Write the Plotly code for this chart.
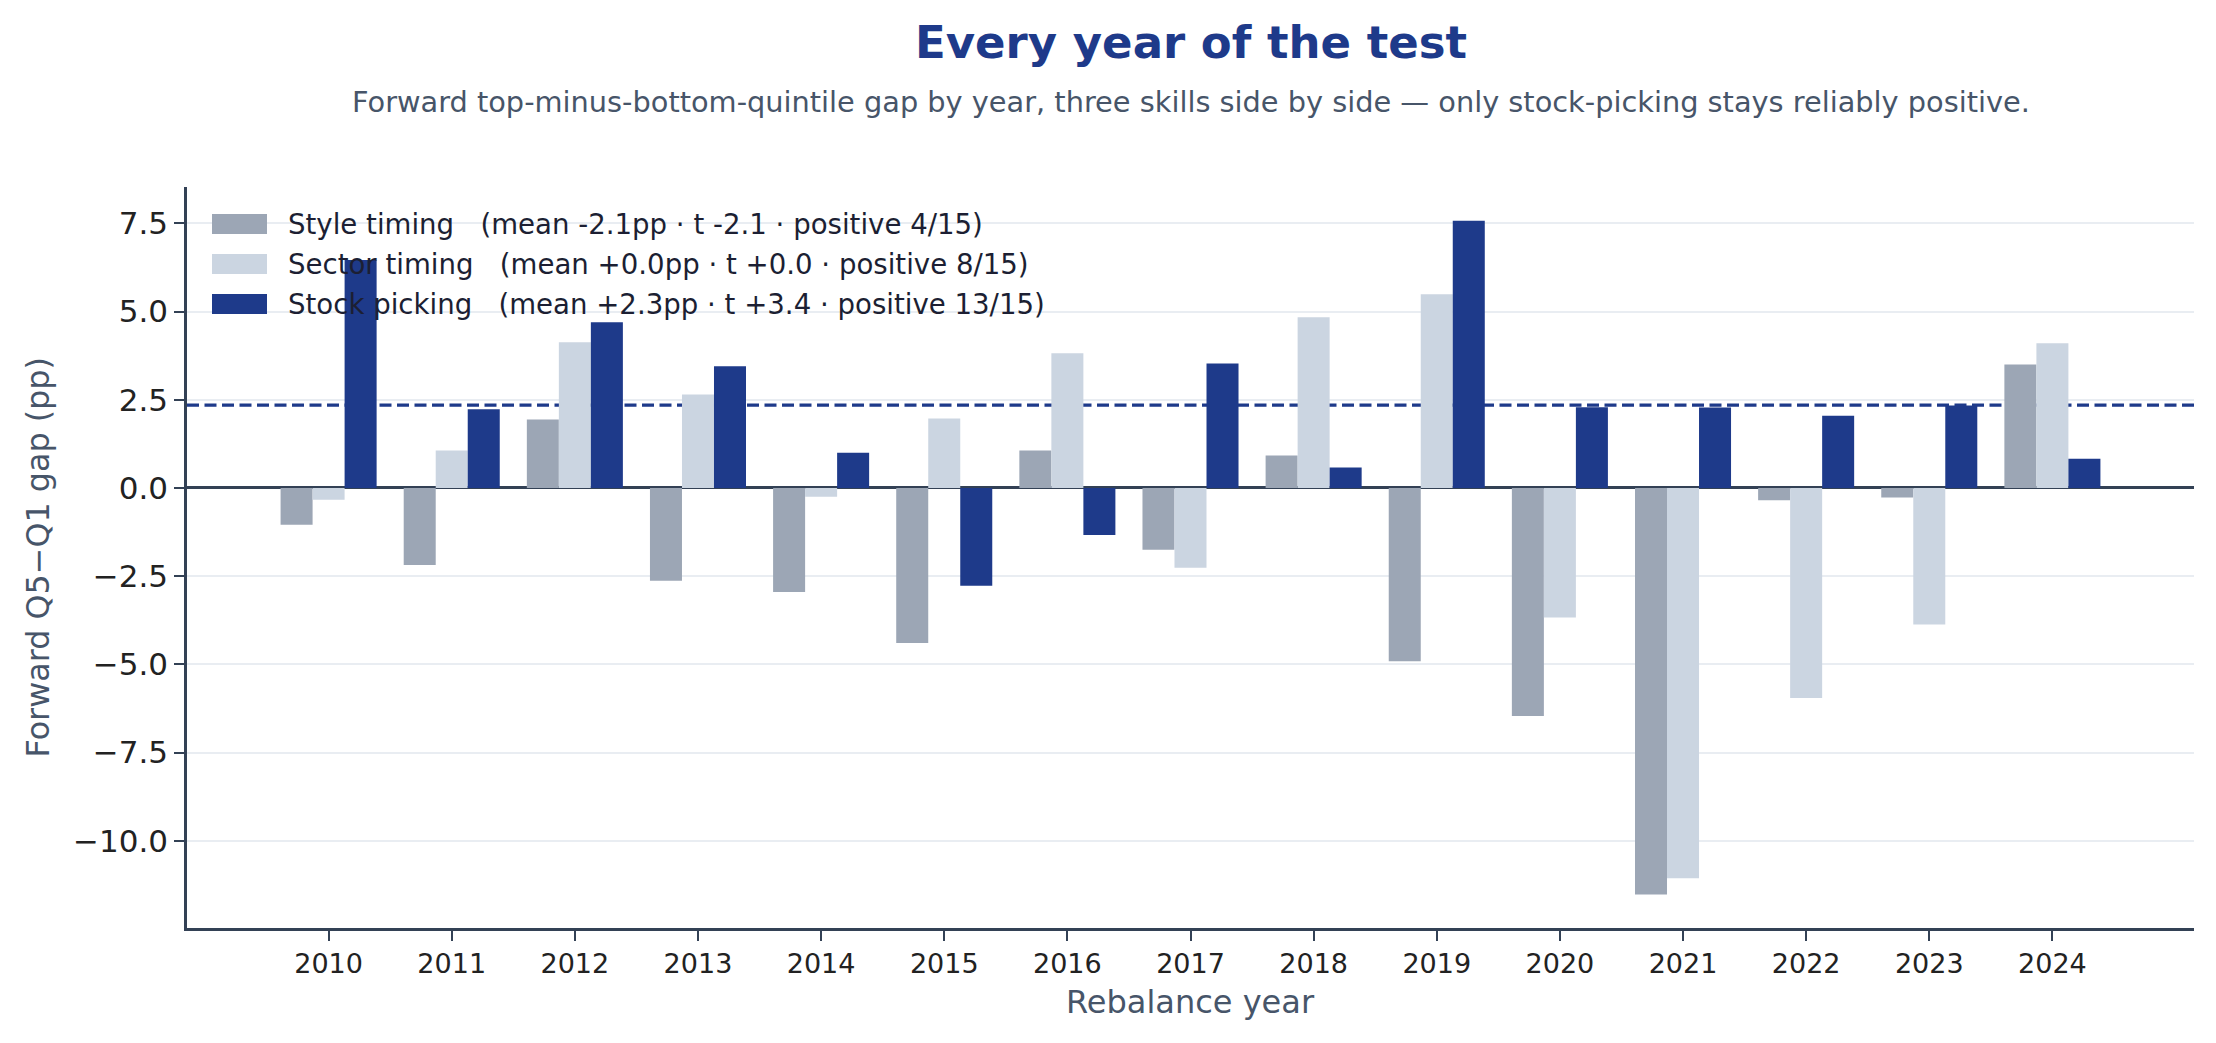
import plotly.graph_objects as go

# ---------------- data ----------------
years = [2010, 2011, 2012, 2013, 2014, 2015, 2016, 2017, 2018, 2019, 2020, 2021, 2022, 2023, 2024]
year_labels = [str(y) for y in years]

style_timing = [-1.04, -2.18, 1.94, -2.63, -2.95, -4.39, 1.06, -1.75, 0.92, -4.91, -6.46, -11.52, -0.35, -0.27, 3.50]
sector_timing = [-0.33, 1.06, 4.13, 2.65, -0.25, 1.97, 3.82, -2.26, 4.84, 5.49, -3.67, -11.06, -5.95, -3.87, 4.10]
stock_picking = [6.46, 2.23, 4.70, 3.45, 1.00, -2.77, -1.33, 3.53, 0.58, 7.57, 2.29, 2.28, 2.05, 2.34, 0.83]

series_names = ["Style timing", "Sector timing", "Stock picking"]
series_stats = [
    "(mean -2.1pp · t -2.1 · positive 4/15)",
    "(mean +0.0pp · t +0.0 · positive 8/15)",
    "(mean +2.3pp · t +3.4 · positive 13/15)",
]
series_colors = ["#9ca6b5", "#cbd5e1", "#1e3a8a"]

ytick_vals = [-10.0, -7.5, -5.0, -2.5, 0.0, 2.5, 5.0, 7.5]
ytick_text = ["\u221210.0", "\u22127.5", "\u22125.0", "\u22122.5", "0.0", "2.5", "5.0", "7.5"]

title_text = "Every year of the test"
subtitle_text = ("Forward top-minus-bottom-quintile gap by year, three skills side by side "
                 "\u2014 only stock-picking stays reliably positive.")
x_title = "Rebalance year"
y_title = "Forward Q5\u2212Q1 gap (pp)"

# ---------------- figure ----------------
FONT = "DejaVu Sans"
W, H = 2216, 1043
ML, MR, MT, MB = 187, 22, 187, 115
PW, PH = W - ML - MR, H - MT - MB


def px_x(px):
    return (px - ML) / PW


def px_y(py):
    return (H - MB - py) / PH


fig = go.Figure()
for name, vals, col in zip(series_names, [style_timing, sector_timing, stock_picking], series_colors):
    fig.add_trace(go.Bar(x=years, y=vals, name=name, marker_color=col,
                         marker_line_width=0, showlegend=False))

stock_mean = sum(stock_picking) / len(stock_picking)

shapes = [
    dict(type="line", xref="paper", x0=0, x1=1, yref="y", y0=stock_mean, y1=stock_mean,
         line=dict(color="#1e3a8a", width=3.2, dash="12px,5.5px"), layer="between"),
]

annotations = [
    dict(text="<b>" + title_text + "</b>", xref="paper", yref="paper", x=0.5, y=px_y(42),
         xanchor="center", yanchor="middle", showarrow=False,
         font=dict(family=FONT, size=45, color="#1e3a8a")),
    dict(text=subtitle_text, xref="paper", yref="paper", x=0.5, y=px_y(102),
         xanchor="center", yanchor="middle", showarrow=False,
         font=dict(family=FONT, size=28.8, color="#475569")),
    dict(text=x_title, xref="paper", yref="paper", x=0.5, y=px_y(1002),
         xanchor="center", yanchor="middle", showarrow=False,
         font=dict(family=FONT, size=32, color="#475569")),
    dict(text=y_title, xref="paper", yref="paper", x=px_x(37), y=0.5, textangle=-90,
         xanchor="center", yanchor="middle", showarrow=False,
         font=dict(family=FONT, size=31.8, color="#475569")),
]

# custom legend (matplotlib-like wide swatches)
row_centers = [224, 264, 304]
for name, stat, col, yc in zip(series_names, series_stats, series_colors, row_centers):
    shapes.append(dict(type="rect", xref="paper", yref="paper",
                       x0=px_x(212), x1=px_x(267), y0=px_y(yc + 10), y1=px_y(yc - 10),
                       fillcolor=col, line=dict(width=0), layer="above"))
    annotations.append(dict(text=name + "\u00a0\u00a0\u00a0" + stat, xref="paper", yref="paper",
                            x=px_x(286), y=px_y(yc), xanchor="left", yanchor="middle",
                            showarrow=False,
                            font=dict(family=FONT, size=27.6, color="#1c1f33")))

fig.update_layout(
    width=W, height=H,
    margin=dict(l=ML, r=MR, t=MT, b=MB, pad=0),
    paper_bgcolor="white", plot_bgcolor="white",
    barmode="group", bargap=0.22, bargroupgap=0,
    font=dict(family=FONT, color="#222222"),
    shapes=shapes, annotations=annotations,
    xaxis=dict(range=[2008.85, 2025.15], tickvals=years, ticktext=year_labels,
               ticks="outside", ticklen=10, tickwidth=2, tickcolor="#334155",
               showline=True, linecolor="#334155", linewidth=2.5,
               showgrid=False, zeroline=False,
               tickfont=dict(family=FONT, size=27, color="#222222")),
    yaxis=dict(range=[-12.47, 8.53], tickvals=ytick_vals, ticktext=ytick_text,
               ticks="outside", ticklen=10, tickwidth=2, tickcolor="#334155",
               showline=True, linecolor="#334155", linewidth=2.5,
               showgrid=True, gridcolor="#e9edf2", gridwidth=1.6,
               zeroline=True, zerolinecolor="#334155", zerolinewidth=2.6,
               tickfont=dict(family=FONT, size=31, color="#222222")),
)

fig.write_html("out.html")
